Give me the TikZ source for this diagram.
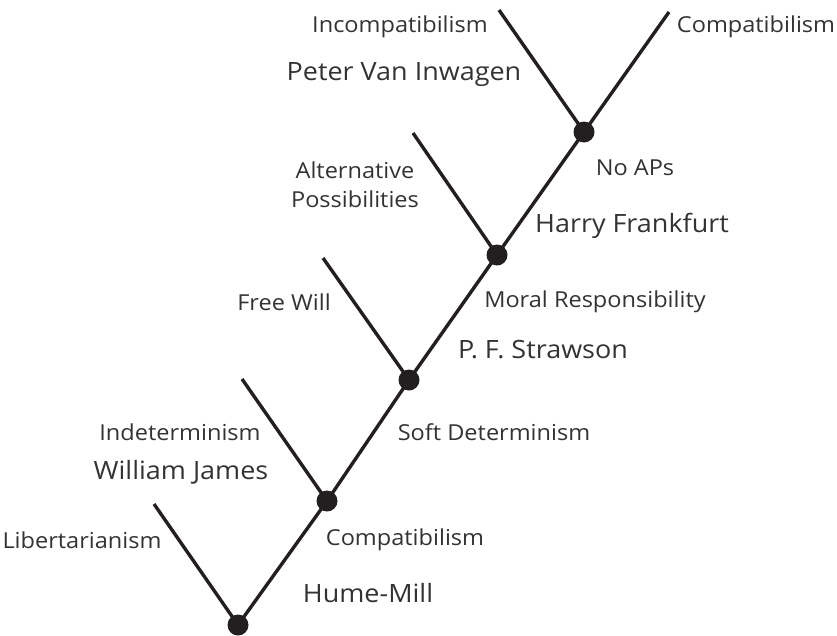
\documentclass[tikz,border=0pt]{standalone}
\usepackage{fontspec}
\setmainfont[FakeStretch=1.07]{Open Sans}
\definecolor{ink}{HTML}{231F20}
\definecolor{txt}{HTML}{333333}
\begin{document}
\begin{tikzpicture}[x=1pt,y=-1pt,
  dot/.style={circle,fill=ink,inner sep=0pt,minimum size=21pt},
  br/.style={draw=ink,line width=3.4pt},
  small/.style={text=txt,font=\fontsize{22}{29}\selectfont,inner sep=0pt,align=center},
  big/.style={text=txt,font=\fontsize{25.2}{30}\selectfont,inner sep=0pt}]
\useasboundingbox (0,0) rectangle (837,635);
\node[dot] (d1) at (238,625) {};
\node[dot] (d2) at (327,501) {};
\node[dot] (d3) at (409,380) {};
\node[dot] (d4) at (497,255) {};
\node[dot] (d5) at (584,132) {};
\coordinate (e1) at (154,504);
\coordinate (e2) at (242,379);
\coordinate (e3) at (323,258);
\coordinate (e4) at (413,133);
\coordinate (e5) at (499,10);
\coordinate (e6) at (669,12);
\draw[br] (d1.center) -- (d2.center) -- (d3.center) -- (d4.center) -- (d5.center) -- (e6);
\draw[br] (d1.center) -- (e1);
\draw[br] (d2.center) -- (e2);
\draw[br] (d3.center) -- (e3);
\draw[br] (d4.center) -- (e4);
\draw[br] (d5.center) -- (e5);
\node[small] (t1) at (400,27) {Incompatibilism};
\node[small] (t2) at (756,27) {Compatibilism};
\node[big] (t3) at (404,75) {Peter Van Inwagen};
\node[small] (t4) at (355,185) {Alternative\\Possibilities};
\node[small] (t5) at (635,168) {No APs};
\node[big] (t6) at (632,226) {Harry Frankfurt};
\node[small] (t7) at (284,302) {Free Will};
\node[small] (t8) at (595,302) {Moral Responsibility};
\node[big] (t9) at (543,350) {P. F. Strawson};
\node[small] (t10) at (180,432) {Indeterminism};
\node[small] (t11) at (494,432) {Soft Determinism};
\node[big] (t12) at (181,472) {William James};
\node[small] (t13) at (82,540) {Libertarianism};
\node[small] (t14) at (405,540) {Compatibilism};
\node[big] (t15) at (368,593) {Hume-Mill};
\end{tikzpicture}
\end{document}
